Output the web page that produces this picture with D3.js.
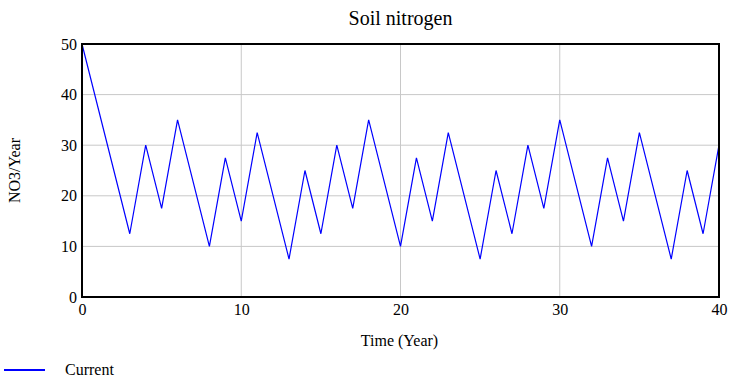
<!DOCTYPE html>
<html>
<head>
<meta charset="utf-8">
<script src="https://cdn.jsdelivr.net/npm/d3@7"></script>
<style>
  body { margin: 0; background: #fff; }
  svg text { font-family: "Liberation Serif", "Times New Roman", serif; fill: #000; }
</style>
</head>
<body>
<div id="chart"></div>
<script>
// data (turning points only)
var years = [0, 3, 4, 5, 6, 8, 9, 10, 11, 13, 14, 15, 16, 17, 18, 20, 21, 22, 23, 25, 26, 27, 28, 29, 30, 32, 33, 34, 35, 37, 38, 39, 40];
var nitrogen = [50, 12.5, 30, 17.5, 35, 10, 27.5, 15, 32.5, 7.5, 25, 12.5, 30, 17.5, 35, 10, 27.5, 15, 32.5, 7.5, 25, 12.5, 30, 17.5, 35, 10, 27.5, 15, 32.5, 7.5, 25, 12.5, 30];
var xTicks = [0, 10, 20, 30, 40];
var yTicks = [0, 10, 20, 30, 40, 50];
var seriesName = "Current";

var W = 747, H = 384;
var margin = { top: 44, right: 28, bottom: 87, left: 82 },
    width = W - margin.left - margin.right,
    height = H - margin.top - margin.bottom;

var svg = d3.select("#chart").append("svg")
    .attr("width", W)
    .attr("height", H);

var g = svg.append("g")
    .attr("transform", "translate(" + margin.left + "," + margin.top + ")");

var x = d3.scaleLinear().domain([0, 40]).range([0, width]);
var y = d3.scaleLinear().domain([0, 50]).range([height, 0]);

// grid
g.selectAll(".hgrid")
    .data(yTicks.filter(function (d) { return d > 0 && d < 50; }))
    .enter().append("line")
    .attr("x1", 0).attr("x2", width)
    .attr("y1", function (d) { return y(d); })
    .attr("y2", function (d) { return y(d); })
    .attr("stroke", "#c8c8c8").attr("stroke-width", 1);
g.selectAll(".vgrid")
    .data(xTicks.filter(function (d) { return d > 0 && d < 40; }))
    .enter().append("line")
    .attr("y1", 0).attr("y2", height)
    .attr("x1", function (d) { return x(d); })
    .attr("x2", function (d) { return x(d); })
    .attr("stroke", "#c8c8c8").attr("stroke-width", 1);

// axes (tick labels only)
var xAxis = g.append("g")
    .attr("transform", "translate(0," + height + ")")
    .call(d3.axisBottom(x).tickValues(xTicks).tickSize(0).tickPadding(7));
var yAxis = g.append("g")
    .call(d3.axisLeft(y).tickValues(yTicks).tickSize(0).tickPadding(5));
[xAxis, yAxis].forEach(function (a) {
    a.attr("font-family", "Liberation Serif").attr("font-size", 16);
    a.select(".domain").remove();
    a.selectAll("text").attr("fill", "#000");
});

// line
var line = d3.line()
    .x(function (d, i) { return x(years[i]); })
    .y(function (d) { return y(d); });
g.append("path")
    .datum(nitrogen)
    .attr("d", line)
    .attr("fill", "none")
    .attr("stroke", "#0000ff")
    .attr("stroke-width", 1.2);

// frame
g.append("rect")
    .attr("width", width).attr("height", height)
    .attr("fill", "none").attr("stroke", "#000").attr("stroke-width", 2);

// title and labels
svg.append("text")
    .attr("x", margin.left + width / 2).attr("y", 25)
    .attr("text-anchor", "middle")
    .style("font-size", "20px")
    .text("Soil nitrogen");
svg.append("text")
    .attr("x", margin.left + width / 2 - 1).attr("y", 346)
    .attr("text-anchor", "middle")
    .style("font-size", "16px")
    .text("Time (Year)");
svg.append("text")
    .attr("transform", "translate(20," + (margin.top + height / 2) + ") rotate(-90)")
    .attr("text-anchor", "middle")
    .style("font-size", "16px")
    .text("NO3/Year");

// legend
svg.append("line")
    .attr("x1", 4).attr("x2", 45).attr("y1", 370).attr("y2", 370)
    .attr("stroke", "#0000ff").attr("stroke-width", 2);
svg.append("text")
    .attr("x", 65).attr("y", 375)
    .style("font-size", "16px")
    .text(seriesName);
</script>
</body>
</html>
